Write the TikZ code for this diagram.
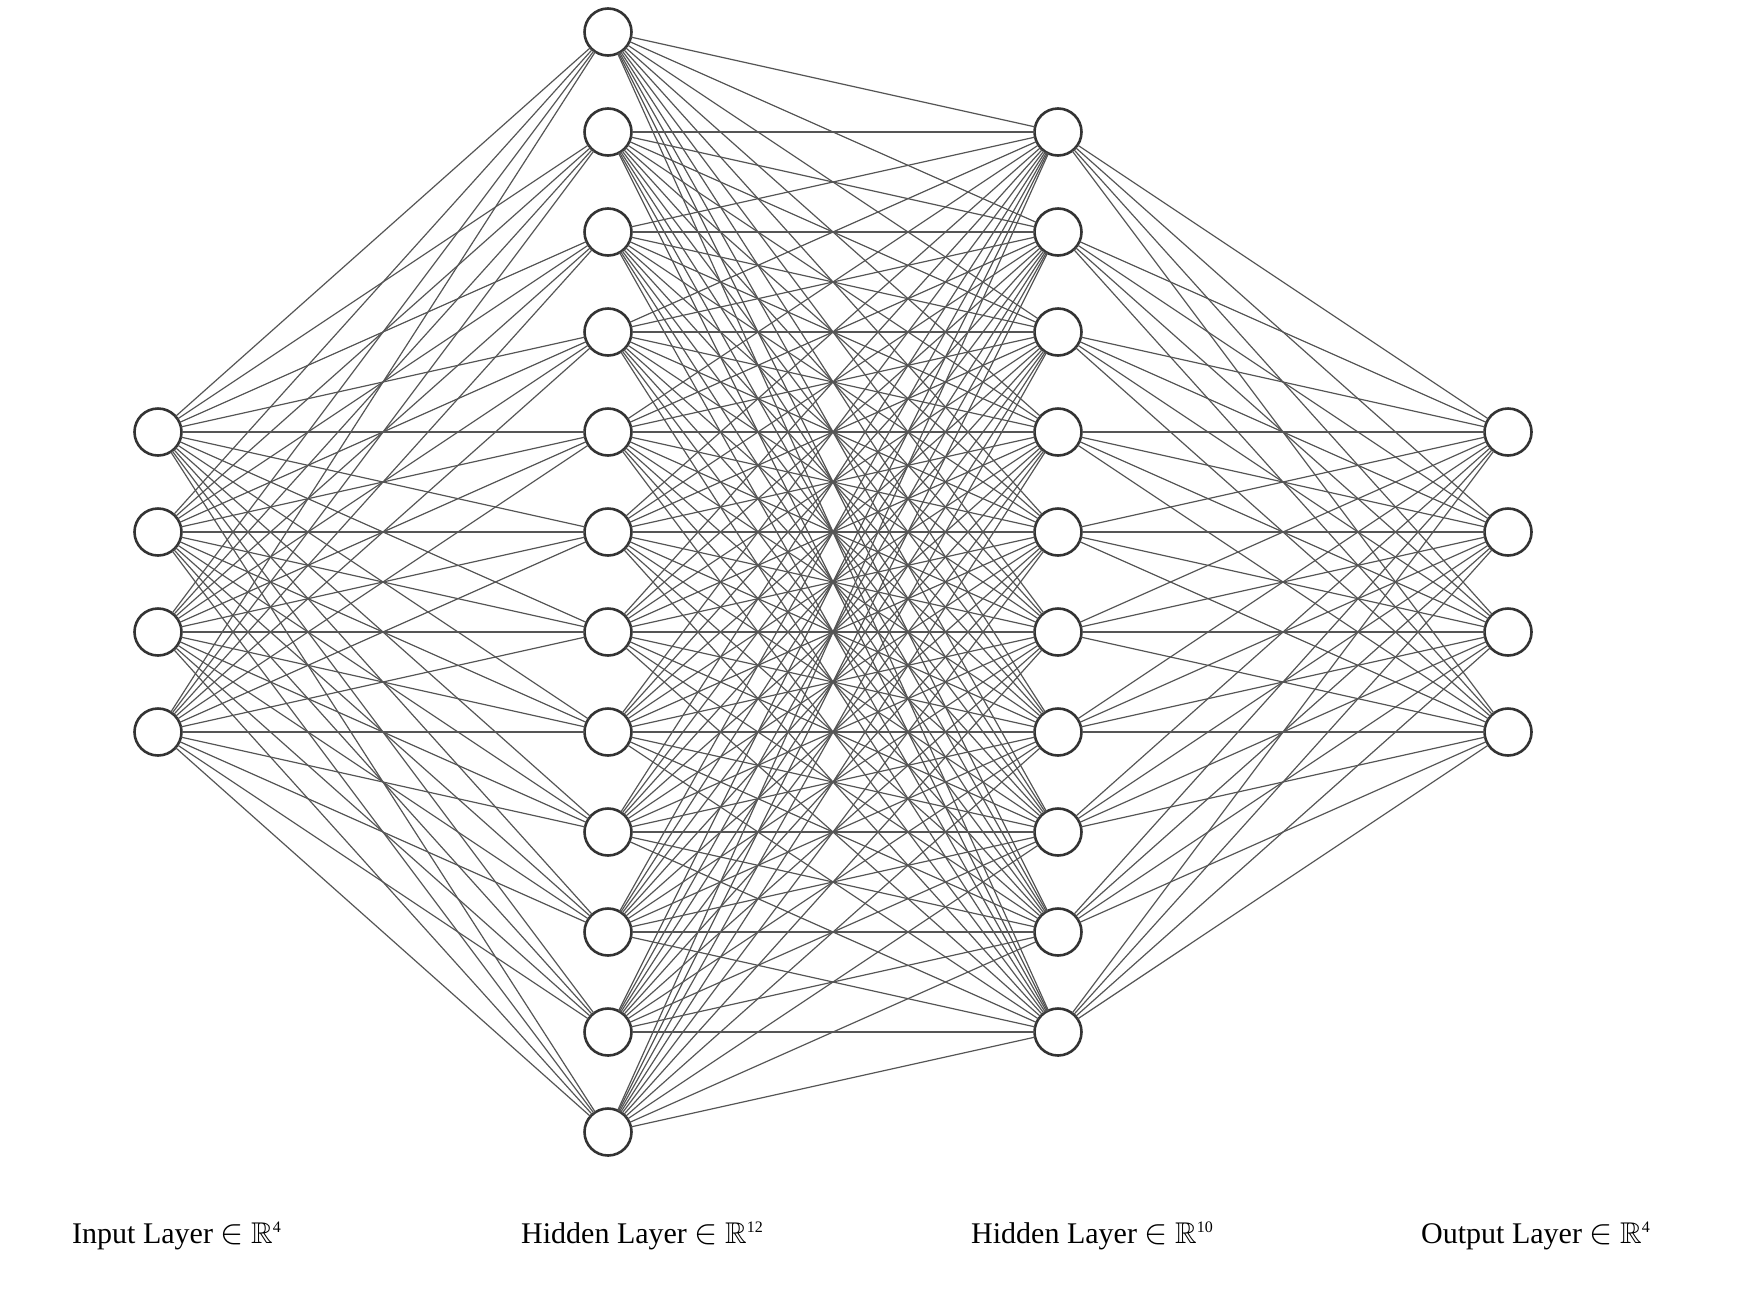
\documentclass[tikz,border=0pt]{standalone}
\usepackage{amssymb}
\usepackage{graphicx}
\usepackage{fontspec}
\setmainfont{Liberation Serif}
\usepackage{xcolor}
\usepackage{tikz}
\usetikzlibrary{positioning}

\definecolor{ringgray}{HTML}{333333}
\definecolor{wiregray}{HTML}{555555}

\newcommand{\inR}[1]{ \scalebox{1.4}{$\in$} $\mathbb{R}$\raisebox{11pt}{\fontsize{16}{16}\selectfont #1}}

\tikzset{
  neuron/.style={circle, draw=ringgray, line width=2.6pt, fill=white, minimum size=47pt, inner sep=0pt, outer sep=0pt},
  synapse/.style={draw=wiregray, line width=1.2pt},
  layerlabel/.style={anchor=base west, inner sep=0pt, font=\fontsize{30}{36}\selectfont}
}

\begin{document}
\begin{tikzpicture}[x=1pt, y=-1pt]
\useasboundingbox (0,0) rectangle (1752,1296);

% neurons
\foreach \i in {1,...,4}{
  \node[neuron] (in\i) at (158, 332+100*\i) {};
  \node[neuron] (out\i) at (1508, 332+100*\i) {};
}
\foreach \i in {1,...,12}{
  \node[neuron] (ha\i) at (608, -68+100*\i) {};
}
\foreach \i in {1,...,10}{
  \node[neuron] (hb\i) at (1058, 32+100*\i) {};
}

% connections
\foreach \i in {1,...,4}{
  \foreach \j in {1,...,12}{
    \draw[synapse] (in\i) -- (ha\j);
  }
}
\foreach \i in {1,...,12}{
  \foreach \j in {1,...,10}{
    \draw[synapse] (ha\i) -- (hb\j);
  }
}
\foreach \i in {1,...,10}{
  \foreach \j in {1,...,4}{
    \draw[synapse] (hb\i) -- (out\j);
  }
}

% layer names
\node[layerlabel] (lblin) at (72,1243) {Input Layer\inR{4}};
\node[layerlabel] (lblha) at (521,1243) {Hidden Layer\inR{12}};
\node[layerlabel] (lblhb) at (971,1243) {Hidden Layer\inR{10}};
\node[layerlabel] (lblout) at (1421,1243) {Output Layer\inR{4}};
\end{tikzpicture}
\end{document}
